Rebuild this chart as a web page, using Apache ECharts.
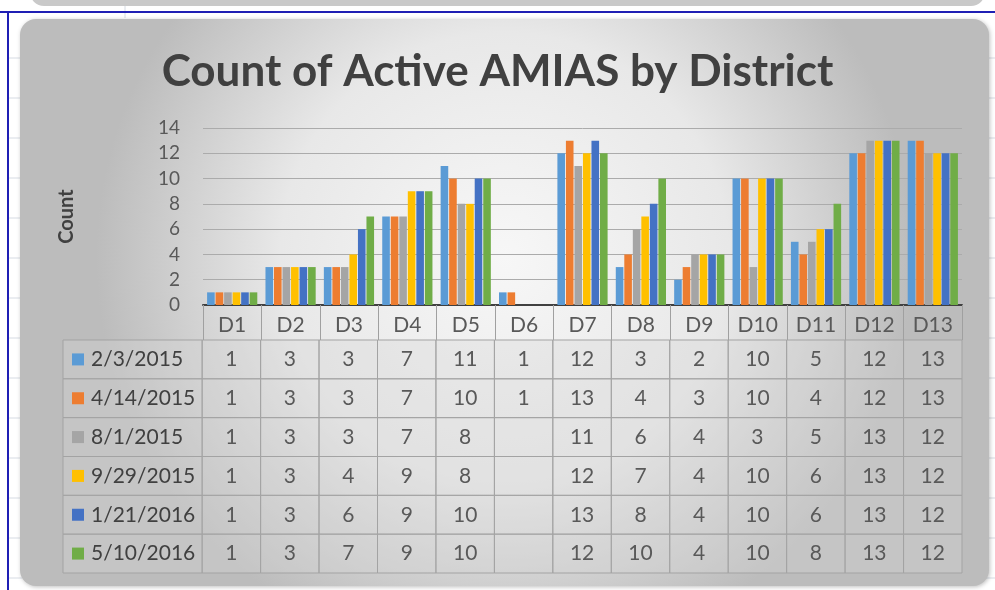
<!DOCTYPE html>
<html>
<head>
<meta charset="utf-8">
<script src="https://cdn.jsdelivr.net/npm/echarts@6/dist/echarts.min.js"></script>
<style>html,body{margin:0;padding:0;background:#fff;}#c{width:995px;height:590px;}</style>
</head>
<body>
<div id="c"></div>
<script>
const districts = ['D1','D2','D3','D4','D5','D6','D7','D8','D9','D10','D11','D12','D13'];
const seriesNames = ['2/3/2015','4/14/2015','8/1/2015','9/29/2015','1/21/2016','5/10/2016'];
const s2015_02_03 = [1,3,3,7,11,1,12,3,2,10,5,12,13];
const s2015_04_14 = [1,3,3,7,10,1,13,4,3,10,4,12,13];
const s2015_08_01 = [1,3,3,7,8,null,11,6,4,3,5,13,12];
const s2015_09_29 = [1,3,4,9,8,null,12,7,4,10,6,13,12];
const s2016_01_21 = [1,3,6,9,10,null,13,8,4,10,6,13,12];
const s2016_05_10 = [1,3,7,9,10,null,12,10,4,10,8,13,12];
const yTicks = [0,2,4,6,8,10,12,14];
const colors = ['#5B9BD5','#ED7D31','#A5A5A5','#FFC000','#4472C4','#70AD47'];

const allSeries = [s2015_02_03,s2015_04_14,s2015_08_01,s2015_09_29,s2016_01_21,s2016_05_10];
const FONT = 'Lato, "Open Sans", sans-serif';

// table cells: [col, row, value]; col -1 = row header
const tableData = [];
allSeries.forEach((arr, r) => {
  tableData.push([-1, r, -1]);
  arr.forEach((v, c) => tableData.push([c, r, v == null ? -1 : v]));
});

const LEFT_COL_UNITS = 139 / 58.38;

const barSeries = allSeries.map((arr, i) => ({
  name: seriesNames[i],
  type: 'bar',
  xAxisIndex: 0, yAxisIndex: 0,
  data: arr,
  barGap: '12%',
  barCategoryGap: '14%',
  itemStyle: { color: colors[i] }
}));

const chart = echarts.init(document.getElementById('c'));
const gridLinesLeft = [];
for (let y = 58; y < 590; y += 40) {
  gridLinesLeft.push({ type: 'line', shape: { x1: 9, y1: y, x2: 22, y2: y }, style: { stroke: '#d6dbe3', lineWidth: 1 }, z: -10 });
  gridLinesLeft.push({ type: 'line', shape: { x1: 986, y1: y, x2: 995, y2: y }, style: { stroke: '#d6dbe3', lineWidth: 1 }, z: -10 });
}
chart.setOption({
  backgroundColor: '#ffffff',
  animation: false,
  title: {
    text: 'Count of Active AMIAS by District',
    left: 'center', top: 45,
    textStyle: { fontFamily: FONT, fontWeight: 'bold', fontSize: 44, color: '#404040' }
  },
  graphic: [
    ...gridLinesLeft,
    { type: 'rect', shape: { x: 30, y: -30, width: 955, height: 36, r: 14 }, style: { fill: '#c9c9c9' }, z: -9 },
    { type: 'line', shape: { x1: 125, y1: 0, x2: 125, y2: 18 }, style: { stroke: '#d6dbe3', lineWidth: 1 }, z: -10 },
    { type: 'rect', shape: { x: 0, y: 11, width: 995, height: 2 }, style: { fill: '#1f1fb4' }, z: -8 },
    { type: 'rect', shape: { x: 7, y: 11, width: 2, height: 579 }, style: { fill: '#1f1fb4' }, z: -8 },
    { type: 'rect', shape: { x: 20, y: 19, width: 969, height: 567, r: 16 },
      style: {
        fill: new echarts.graphic.RadialGradient(0.5, 0.42, 0.72, [
          { offset: 0, color: '#f7f7f7' },
          { offset: 0.55, color: '#e8e8e8' },
          { offset: 1, color: '#bcbcbc' }
        ]),
        shadowBlur: 4, shadowColor: 'rgba(0,0,0,0.25)', shadowOffsetX: 1, shadowOffsetY: 1
      }, z: -5 }
  ],
  grid: [
    { left: 203, right: 33, top: 128, height: 177 },
    { left: 63, right: 33, top: 340, height: 233 }
  ],
  xAxis: [
    {
      type: 'category', gridIndex: 0, data: districts,
      axisLine: { lineStyle: { color: '#404040', width: 2 } },
      axisTick: { show: true, length: 35, interval: 0, lineStyle: { color: '#a0a0a0' } },
      axisLabel: { interval: 0, margin: 10, fontFamily: FONT, fontSize: 21, color: '#595959' }
    },
    {
      type: 'value', gridIndex: 1, min: -LEFT_COL_UNITS, max: 13, show: false
    }
  ],
  yAxis: [
    {
      type: 'value', gridIndex: 0, min: 0, max: 14, interval: 2,
      name: 'Count', nameLocation: 'middle', nameGap: 126, nameRotate: 90,
      nameTextStyle: { fontFamily: FONT, fontWeight: 'bold', fontSize: 20, color: '#404040' },
      axisLine: { show: false }, axisTick: { show: false },
      axisLabel: { fontFamily: FONT, fontSize: 19, color: '#595959', margin: 23,
        formatter: v => yTicks.includes(v) ? String(v) : '' },
      splitLine: { lineStyle: { color: '#ababab', width: 1 } }
    },
    {
      type: 'value', gridIndex: 1, min: 0, max: 6, inverse: true, show: false
    }
  ],
  series: [
    ...barSeries,
    {
      type: 'custom',
      xAxisIndex: 1, yAxisIndex: 1,
      data: tableData,
      encode: { x: 0, y: 1 },
      clip: false,
      renderItem: function (params, api) {
        const c = api.value(0), r = api.value(1), v = api.value(2);
        const x0 = c < 0 ? -LEFT_COL_UNITS : c;
        const x1 = c < 0 ? 0 : c + 1;
        const p0 = api.coord([x0, r]);
        const p1 = api.coord([x1, r + 1]);
        const w = p1[0] - p0[0], h = p1[1] - p0[1];
        const children = [{
          type: 'rect',
          shape: { x: p0[0], y: p0[1], width: w, height: h },
          style: { fill: 'rgba(215,215,215,0.35)', stroke: '#a3a3a3', lineWidth: 1 }
        }];
        if (c < 0) {
          children.push({ type: 'rect', shape: { x: p0[0] + 9, y: p0[1] + h / 2 - 6, width: 12, height: 12 },
            style: { fill: colors[r] } });
          children.push({ type: 'text', style: { text: seriesNames[r], x: p0[0] + 28, y: p0[1] + h / 2,
            align: 'left', verticalAlign: 'middle', fontFamily: FONT, fontSize: 21, fill: '#404040' } });
        } else if (v >= 0) {
          children.push({ type: 'text', style: { text: String(v), x: p0[0] + w / 2, y: p0[1] + h / 2,
            align: 'center', verticalAlign: 'middle', fontFamily: FONT, fontSize: 21, fill: '#595959' } });
        }
        return { type: 'group', children };
      }
    }
  ]
});
</script>
</body>
</html>
